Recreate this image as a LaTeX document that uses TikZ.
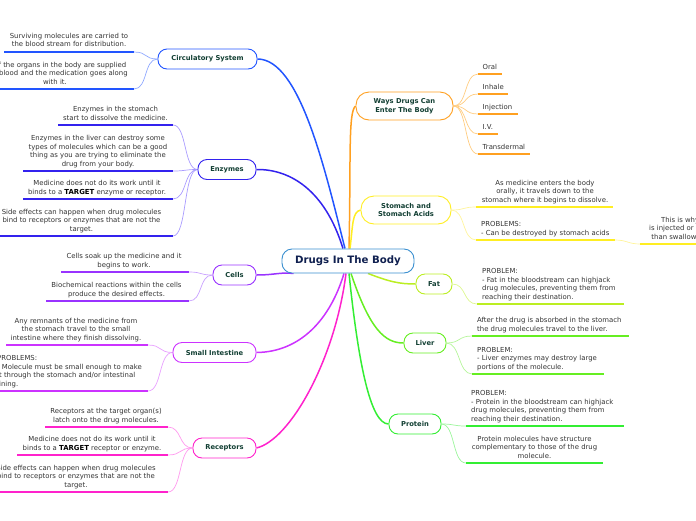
\documentclass[tikz,border=0pt]{standalone}
\usepackage{fontspec}
\setmainfont{DejaVu Sans}
\usetikzlibrary{backgrounds}
\definecolor{labc}{HTML}{123F33}
\definecolor{titc}{HTML}{102050}
\definecolor{txtc}{HTML}{333333}
\definecolor{cC}{HTML}{2255FF}\definecolor{cCl}{HTML}{8FA8FF}
\definecolor{cE}{HTML}{3322EE}\definecolor{cEl}{HTML}{A99BFF}
\definecolor{cL}{HTML}{9933FF}\definecolor{cLl}{HTML}{C8A0FF}
\definecolor{cS}{HTML}{CC33FF}\definecolor{cSl}{HTML}{E8A0FF}
\definecolor{cR}{HTML}{FF22CC}\definecolor{cRl}{HTML}{FF99EE}
\definecolor{cW}{HTML}{FFA020}\definecolor{cWl}{HTML}{FFCC80}
\definecolor{cA}{HTML}{FFEE22}\definecolor{cAl}{HTML}{FFF49A}
\definecolor{cF}{HTML}{BBEE22}\definecolor{cFl}{HTML}{DDF78F}
\definecolor{cV}{HTML}{66EE22}\definecolor{cVl}{HTML}{B5F59A}
\definecolor{cP}{HTML}{33EE33}\definecolor{cPl}{HTML}{9AF59A}
\definecolor{cT}{HTML}{3A8FD0}
\begin{document}
\begin{tikzpicture}[x=1pt,y=-1pt,
  mainbox/.style={draw=#1, rounded corners=9pt, fill=white, line width=0.9pt, minimum height=20pt, inner sep=0pt, font=\fontsize{6.75}{8.5}\selectfont\bfseries, text=labc, align=center},
  leafc/.style={inner sep=0pt, anchor=south, align=center, text depth=1.5pt, font=\fontsize{6.9}{8.5}\selectfont, text=txtc},
  leafl/.style={inner sep=0pt, anchor=south west, align=left, text depth=1.5pt, font=\fontsize{6.9}{8.5}\selectfont, text=txtc},
  br/.style={draw=#1, line width=1.5pt},
  sub/.style={draw=#1, line width=0.7pt},
  ul/.style={draw=#1, line width=2pt}]
\useasboundingbox (0,0) rectangle (696,520);

% main nodes
\node[draw=cT, rounded corners=10pt, fill=white, line width=0.9pt, minimum width=132pt, minimum height=24pt, inner sep=0pt, font=\fontsize{10.2}{11}\selectfont\bfseries, text=titc] (title) at (348,261) {Drugs In The Body};
\node[mainbox=cC, minimum width=99pt] (circ) at (207.5,59) {Circulatory System};
\node[mainbox=cE, minimum width=58pt] (enz) at (227,169.5) {Enzymes};
\node[mainbox=cL, minimum width=43pt] (cells) at (234.5,275) {Cells};
\node[mainbox=cS, minimum width=83pt] (si) at (214.5,352.5) {Small Intestine};
\node[mainbox=cR, minimum width=63pt] (rec) at (224.5,448) {Receptors};
\node[mainbox=cW, minimum width=97pt, minimum height=28pt, rounded corners=13pt] (ways) at (404.5,106) {Ways Drugs Can\\Enter The Body};
\node[mainbox=cA, minimum width=90pt, minimum height=28pt, rounded corners=13pt] (st) at (406,210) {Stomach and\\Stomach Acids};
\node[mainbox=cF, minimum width=36pt] (fat) at (434,284) {Fat};
\node[mainbox=cV, minimum width=42pt] (liver) at (425,343) {Liver};
\node[mainbox=cP, minimum width=52pt] (prot) at (415,424) {Protein};

% leaf texts
\node[leafc] (c1t) at (69,48.5) {Surviving molecules are carried to\\the blood stream for distribution.};
\node[leafc] (c2t) at (55,86) {All of the organs in the body are supplied\\with blood and the medication goes along\\with it.};
\node[leafc] (e1t) at (115.5,122) {Enzymes in the stomach\\start to dissolve the medicine.};
\node[leafc] (e2t) at (98,168) {Enzymes in the liver can destroy some\\types of molecules which can be a good\\thing as you are trying to eliminate the\\drug from your body.};
\node[leafc] (e3t) at (97,196) {Medicine does not do its work until it\\binds to a \textbf{\color{black}TARGET} enzyme or receptor.};
\node[leafc] (e4t) at (81.5,233) {Side effects can happen when drug molecules\\bind to receptors or enzymes that are not the\\target.};
\node[leafc] (l1t) at (124,269) {Cells soak up the medicine and it\\begins to work.};
\node[leafc] (l2t) at (116.5,298) {Biochemical reactions within the cells\\produce the desired effects.};
\node[leafc] (s1t) at (76,342) {Any remnants of the medicine from\\the stomach travel to the small\\intestine where they finish dissolving.};
\node[leafl] (s2t) at (-3,388) {PROBLEMS:\\- Molecule must be small enough to make\\it through the stomach and/or intestinal\\lining.};
\node[leafc] (r1t) at (106,424) {Receptors at the target organ(s)\\latch onto the drug molecules.};
\node[leafc] (r2t) at (92,452) {Medicine does not do its work until it\\binds to a \textbf{\color{black}TARGET} receptor or enzyme.};
\node[leafc] (r3t) at (76,489) {Side effects can happen when drug molecules\\bind to receptors or enzymes that are not the\\target.};
\node[leafl] (w1t) at (482.5,71) {Oral};
\node[leafl] (w2t) at (482.5,91) {Inhale};
\node[leafl] (w3t) at (482.5,111) {Injection};
\node[leafl] (w4t) at (482.5,131) {I.V.};
\node[leafl] (w5t) at (482.5,151) {Transdermal};
\node[leafc] (a1t) at (545,204) {As medicine enters the body\\orally, it travels down to the\\stomach where it begins to dissolve.};
\node[leafl] (a2t) at (481,237) {PROBLEMS:\\- Can be destroyed by stomach acids};
\node[leafc] (a3t) at (697,241) {This is why medicine\\is injected or inhaled rather\\than swallowed by mouth.};
\node[leafl] (f1t) at (482,301) {PROBLEM:\\- Fat in the bloodstream can highjack\\drug molecules, preventing them from\\reaching their destination.};
\node[leafl] (v1t) at (477,333) {After the drug is absorbed in the stomach\\the drug molecules travel to the liver.};
\node[leafl] (v2t) at (477,371) {PROBLEM:\\- Liver enzymes may destroy large\\portions of the molecule.};
\node[leafl] (p1t) at (471,423) {PROBLEM:\\- Protein in the bloodstream can highjack\\drug molecules, preventing them from\\reaching their destination.};
\node[leafc] (p2t) at (534.5,460) {Protein molecules have structure\\complementary to those of the drug\\molecule.};

% underline end coordinates
\coordinate (c1a) at (4,52);     \coordinate (c1b) at (134,52);
\coordinate (c2a) at (-2,89);    \coordinate (c2b) at (134,89);
\coordinate (e1a) at (58,125);   \coordinate (e1b) at (173,125);
\coordinate (e2a) at (23,171);   \coordinate (e2b) at (173,171);
\coordinate (e3a) at (23,199);   \coordinate (e3b) at (173,199);
\coordinate (e4a) at (-2,236);   \coordinate (e4b) at (173,236);
\coordinate (l1a) at (61,272);   \coordinate (l1b) at (189,272);
\coordinate (l2a) at (46,301);   \coordinate (l2b) at (189,301);
\coordinate (s1a) at (6,345);    \coordinate (s1b) at (148,345);
\coordinate (s2a) at (-2,391);   \coordinate (s2b) at (148,391);
\coordinate (r1a) at (45,427);   \coordinate (r1b) at (168,427);
\coordinate (r2a) at (17,455);   \coordinate (r2b) at (168,455);
\coordinate (r3a) at (-2,492);   \coordinate (r3b) at (168,492);
\coordinate (w1a) at (478,74);   \coordinate (w1b) at (502,74);
\coordinate (w2a) at (478,94);   \coordinate (w2b) at (508,94);
\coordinate (w3a) at (478,114);  \coordinate (w3b) at (518,114);
\coordinate (w4a) at (478,134);  \coordinate (w4b) at (498,134);
\coordinate (w5a) at (478,154);  \coordinate (w5b) at (530,154);
\coordinate (a1a) at (476,207);  \coordinate (a1b) at (613,207);
\coordinate (a2a) at (476,240);  \coordinate (a2b) at (615,240);
\coordinate (a3a) at (640,244);  \coordinate (a3b) at (700,244);
\coordinate (f1a) at (477,304);  \coordinate (f1b) at (624,304);
\coordinate (v1a) at (472,336);  \coordinate (v1b) at (629,336);
\coordinate (v2a) at (472,374);  \coordinate (v2b) at (604,374);
\coordinate (p1a) at (466,426);  \coordinate (p1b) at (624,426);
\coordinate (p2a) at (466,463);  \coordinate (p2b) at (603,463);

\begin{pgfonlayer}{background}
% main branches
\draw[br=cC] ([xshift=-3pt]title.north) .. controls (325,170) and (300,59) .. (circ.east);
\draw[br=cE] ([xshift=-5pt]title.north) .. controls (325,190) and (290,169) .. (enz.east);
\draw[br=cL] ([xshift=12pt]title.south west) .. controls (280,272) and (275,275) .. (cells.east);
\draw[br=cS] ([xshift=-4pt]title.south) .. controls (330,320) and (300,352) .. (si.east);
\draw[br=cR] ([xshift=-2pt]title.south) .. controls (335,360) and (290,440) .. (rec.east);
\draw[br=cW] ([xshift=1pt]title.north) .. controls (351,160) and (348,112) .. (ways.west);
\draw[br=cA] ([xshift=2pt]title.north) .. controls (353,225) and (352,212) .. (st.west);
\draw[br=cF] ([xshift=20pt]title.south) .. controls (390,282) and (400,284) .. (fat.west);
\draw[br=cV] ([xshift=3pt]title.south) .. controls (370,330) and (385,343) .. (liver.west);
\draw[br=cP] ([xshift=1pt]title.south) .. controls (358,360) and (370,424) .. (prot.west);
% sub connectors (left side)
\draw[sub=cCl] (circ.west) .. controls +(-14,0) and +(14,0) .. (c1b);
\draw[sub=cCl] (circ.west) .. controls +(-14,0) and +(14,0) .. (c2b);
\draw[sub=cEl] (enz.west) .. controls +(-14,0) and +(14,0) .. (e1b);
\draw[sub=cEl] (enz.west) .. controls +(-14,0) and +(14,0) .. (e2b);
\draw[sub=cEl] (enz.west) .. controls +(-14,0) and +(14,0) .. (e3b);
\draw[sub=cEl] (enz.west) .. controls +(-14,0) and +(14,0) .. (e4b);
\draw[sub=cLl] (cells.west) .. controls +(-14,0) and +(14,0) .. (l1b);
\draw[sub=cLl] (cells.west) .. controls +(-14,0) and +(14,0) .. (l2b);
\draw[sub=cSl] (si.west) .. controls +(-14,0) and +(14,0) .. (s1b);
\draw[sub=cSl] (si.west) .. controls +(-14,0) and +(14,0) .. (s2b);
\draw[sub=cRl] (rec.west) .. controls +(-14,0) and +(14,0) .. (r1b);
\draw[sub=cRl] (rec.west) .. controls +(-14,0) and +(14,0) .. (r2b);
\draw[sub=cRl] (rec.west) .. controls +(-14,0) and +(14,0) .. (r3b);
% sub connectors (right side)
\draw[sub=cWl] (ways.east) .. controls +(14,0) and +(-14,0) .. (w1a);
\draw[sub=cWl] (ways.east) .. controls +(14,0) and +(-14,0) .. (w2a);
\draw[sub=cWl] (ways.east) .. controls +(14,0) and +(-14,0) .. (w3a);
\draw[sub=cWl] (ways.east) .. controls +(14,0) and +(-14,0) .. (w4a);
\draw[sub=cWl] (ways.east) .. controls +(14,0) and +(-14,0) .. (w5a);
\draw[sub=cAl] (st.east) .. controls +(14,0) and +(-14,0) .. (a1a);
\draw[sub=cAl] (st.east) .. controls +(14,0) and +(-14,0) .. (a2a);
\draw[sub=cAl] (a2b) .. controls +(12,0) and +(-12,0) .. (a3a);
\draw[sub=cFl] (fat.east) .. controls +(14,0) and +(-14,0) .. (f1a);
\draw[sub=cVl] (liver.east) .. controls +(14,0) and +(-14,0) .. (v1a);
\draw[sub=cVl] (liver.east) .. controls +(14,0) and +(-14,0) .. (v2a);
\draw[sub=cPl] (prot.east) .. controls +(14,0) and +(-14,0) .. (p1a);
\draw[sub=cPl] (prot.east) .. controls +(14,0) and +(-14,0) .. (p2a);
\end{pgfonlayer}
% underlines
\draw[ul=cC] (c1a) -- (c1b);
\draw[ul=cC] (c2a) -- (c2b);
\draw[ul=cE] (e1a) -- (e1b);
\draw[ul=cE] (e2a) -- (e2b);
\draw[ul=cE] (e3a) -- (e3b);
\draw[ul=cE] (e4a) -- (e4b);
\draw[ul=cL] (l1a) -- (l1b);
\draw[ul=cL] (l2a) -- (l2b);
\draw[ul=cS] (s1a) -- (s1b);
\draw[ul=cS] (s2a) -- (s2b);
\draw[ul=cR] (r1a) -- (r1b);
\draw[ul=cR] (r2a) -- (r2b);
\draw[ul=cR] (r3a) -- (r3b);
\draw[ul=cW] (w1a) -- (w1b);
\draw[ul=cW] (w2a) -- (w2b);
\draw[ul=cW] (w3a) -- (w3b);
\draw[ul=cW] (w4a) -- (w4b);
\draw[ul=cW] (w5a) -- (w5b);
\draw[ul=cA] (a1a) -- (a1b);
\draw[ul=cA] (a2a) -- (a2b);
\draw[ul=cA] (a3a) -- (a3b);
\draw[ul=cF] (f1a) -- (f1b);
\draw[ul=cV] (v1a) -- (v1b);
\draw[ul=cV] (v2a) -- (v2b);
\draw[ul=cP] (p1a) -- (p1b);
\draw[ul=cP] (p2a) -- (p2b);
\end{tikzpicture}
\end{document}
